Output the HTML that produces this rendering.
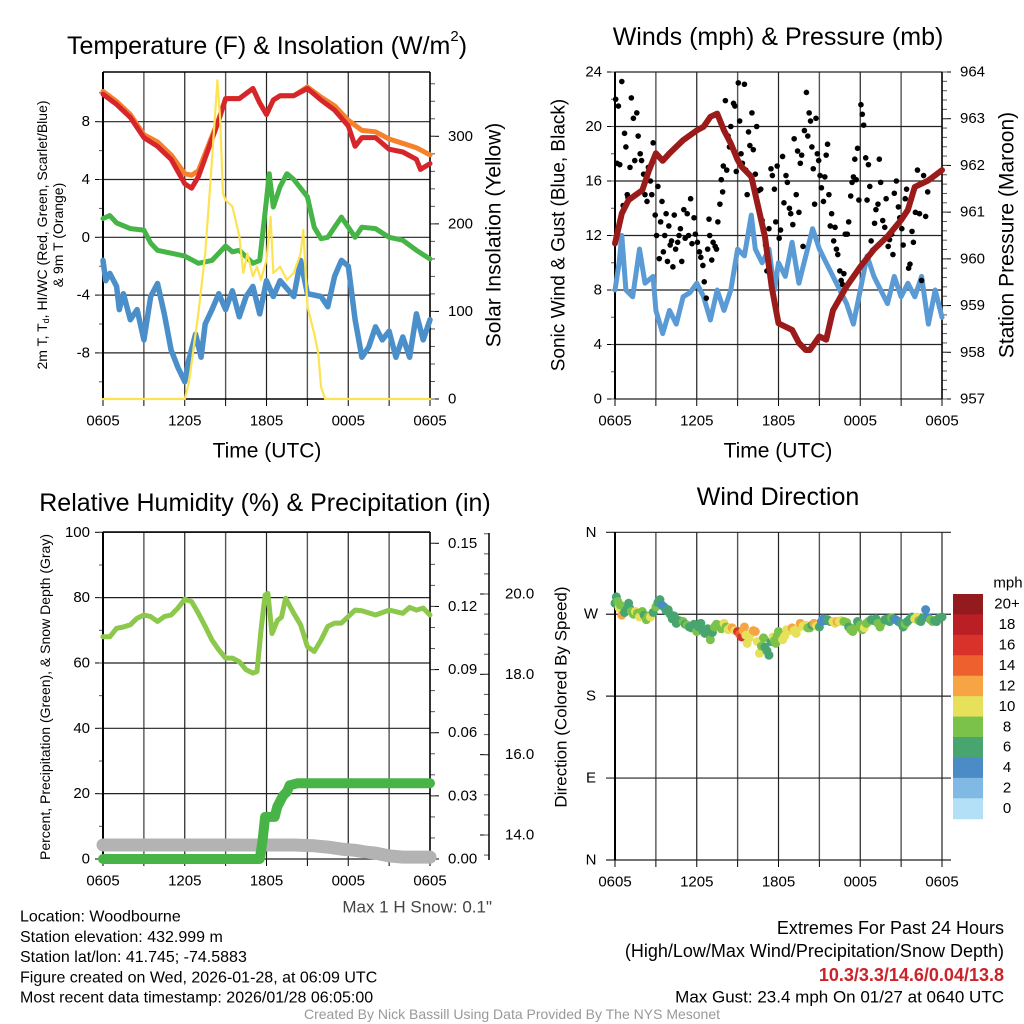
<!DOCTYPE html>
<html><head><meta charset="utf-8"><style>
html,body{margin:0;padding:0;background:#fff;}
svg{display:block;font-family:"Liberation Sans",Arial,sans-serif;}
</style></head><body>
<svg id="s" width="1024" height="1024" viewBox="0 0 1024 1024"></svg>
<script>
// ---------- DATA ----------
const timeTickLabels = ["0605","1205","1805","0005","0605"];
// Panel 1: temperature (F) & insolation
const redHours = [0,1,2,3,4,5,6,6.5,7,8,8.5,9,10,11,11.5,12,12.5,13,14,15,16,17,18,18.5,19,20,21,22,23,23.3,24];
const redTemp  = [9.9,9.2,8.3,6.9,6.3,5.4,3.7,3.4,4.2,6.8,8.1,9.6,9.6,10.3,9.3,8.5,9.5,9.8,9.8,10.3,9.5,8.8,7.7,6.3,6.9,6.9,6.1,5.9,5.4,4.7,5.1];
const orangeHours = [0,1,2,3,4,5,6,6.5,7,8,8.5,9,10,11,11.5,12,12.5,13,14,15,16,17,18,19,20,21,22,23,24];
const orangeTemp  = [10.1,9.4,8.5,7.1,6.6,5.7,4.4,4.3,4.6,7.0,8.2,9.6,9.6,10.3,9.3,8.5,9.5,9.8,9.8,10.4,9.7,9.1,8.1,7.4,7.3,6.8,6.5,6.2,5.7];
const greenHours = [0,0.5,1,2,3,3.5,4,5,6,7,8,9,9.5,10,11,11.5,12,12.2,12.5,13,13.5,14,15,15.5,16,16.5,17,17.5,18,18.5,19,20,21,22,23,24];
const greenTemp  = [1.3,1.5,1.0,0.6,0.5,-0.4,-0.9,-1.1,-1.3,-1.8,-1.6,-0.6,-1.0,-0.9,-1.8,-1.6,2.6,4.4,2.1,3.5,4.4,4.0,2.8,0.7,-0.1,0,0.7,1.4,0.7,0,0.7,0.6,0,-0.2,-0.9,-1.5];
const blueHours = [0,0.2,0.5,1,1.2,1.5,2,2.5,3,3.5,4,4.5,5,5.5,6,6.3,6.8,7.2,7.5,8,8.5,9,9.5,10,10.5,11,11.5,12,12.5,13,14,14.5,15,16,16.5,17,17.5,18,18.5,19,19.5,20,20.5,21,21.5,22,22.5,23,23.5,24];
const blueTemp  = [-1.6,-3.0,-2.5,-3.4,-5.0,-3.9,-5.7,-5.0,-7.1,-4.1,-3.2,-5.3,-7.8,-9.0,-10.0,-8.5,-6.7,-8.3,-6.0,-5.0,-3.9,-5.0,-3.7,-5.5,-4.1,-3.4,-5.3,-3.0,-4.1,-3.0,-4.1,-1.6,-3.9,-4.1,-4.8,-2.7,-1.6,-2.0,-5.7,-8.3,-7.6,-6.2,-7.1,-6.5,-8.3,-6.9,-8.3,-5.3,-7.1,-5.7];
const solarHours = [0,6,6.3,7,7.5,8,8.4,8.6,8.8,9,9.5,10,10.3,10.6,11,11.3,11.6,12,12.3,12.5,13,13.5,14,14.5,14.7,15,15.5,15.8,16,16.3,24];
const solarVals  = [0,0,18,98,166,273,364,319,235,227,220,186,144,166,140,151,136,159,208,144,151,136,144,166,193,106,75,52,14,0,0];
const tempTicks = [-8,-4,0,4,8];
const solarTicks = [0,100,200,300];
// Panel 2: winds & pressure
const windHours = [0,0.3,0.5,0.8,1.3,1.8,2.2,2.8,3,3.5,4,4.5,5,5.5,6,6.5,7,7.5,8,8.5,9,9.5,10,10.3,10.8,11.3,11.7,12,12.5,13,13.5,14,14.5,15,15.5,16,16.5,17,17.5,18,18.5,19,19.5,20,20.5,21,21.5,22,22.5,23,23.5,24];
const windVals  = [8,10,12,8,7.5,11,8.5,9,6.5,4.8,6.5,5.5,7.5,7.8,8.5,7.5,5.8,8,6.5,8,11,10.5,13.5,11,10,11,8,10,9,11.5,8.5,10.5,12.5,11,10,9,8,7,5.5,8,10.5,9,8,7,9,7.5,8.5,7.5,9,5.5,8,6];
const presHours = [0,0.5,1,2,2.5,3,3.5,4,5,6,6.5,7,7.5,8,8.5,9,9.3,10,11,11.5,12,13,13.5,14,14.3,15,15.5,16,17,18,19,20,21,21.5,22,23,24];
const presVals  = [960.33,960.97,961.26,961.47,961.9,962.26,962.1,962.26,962.54,962.75,962.83,963.04,963.11,962.75,962.47,962.12,961.97,961.76,960.48,959.4,958.62,958.48,958.2,958.05,958.05,958.34,958.27,958.9,959.41,959.83,960.2,960.48,960.83,961.05,961.54,961.68,961.9];
const gustHours = [0.05,0.15,0.25,0.35,0.5,0.6,0.7,0.8,0.9,0.95,1.1,1.2,1.35,1.45,1.6,1.7,1.85,1.95,2.1,2.2,2.35,2.45,2.6,2.7,2.8,2.95,3.05,3.15,3.25,3.35,3.45,3.55,3.65,3.75,3.85,3.95,4.05,4.15,4.25,4.35,4.45,4.6,4.7,4.8,4.9,5.05,5.15,5.3,5.4,5.55,5.65,5.8,5.9,6.05,6.2,6.3,6.45,6.55,6.7,6.8,6.9,6.95,7.1,7.2,7.35,7.45,7.55,7.7,7.8,7.9,7.95,8.1,8.2,8.3,8.4,8.5,8.6,8.7,8.8,8.9,9.05,9.15,9.25,9.35,9.5,9.6,9.7,9.8,9.9,10.05,10.15,10.3,10.4,10.55,10.7,10.8,10.9,11.05,11.15,11.3,11.45,11.55,11.7,11.8,11.9,12.05,12.15,12.3,12.4,12.55,12.65,12.8,12.9,13.05,13.15,13.3,13.4,13.5,13.6,13.7,13.8,13.9,14.05,14.15,14.25,14.35,14.45,14.55,14.65,14.75,14.85,14.95,15.05,15.15,15.3,15.4,15.5,15.6,15.7,15.8,15.9,16.05,16.15,16.25,16.35,16.5,16.6,16.7,16.8,16.9,17.05,17.15,17.3,17.4,17.5,17.6,17.7,17.8,17.9,18.05,18.15,18.25,18.4,18.5,18.6,18.7,18.8,18.9,19.05,19.15,19.3,19.4,19.5,19.65,19.8,19.9,20.05,20.15,20.3,20.4,20.5,20.65,20.8,20.9,21.05,21.15,21.3,21.4,21.55,21.65,21.8,21.9,22.05,22.2,22.35,22.5,22.65,22.8,22.95];
const gustVals  = [22,17.3,21.5,17.2,23.3,14.2,19.5,18.5,15,14.8,17,22.1,20.6,17.5,21,19.3,18,17.5,16.5,15,14.5,17,16,15,18.8,13.5,12,15.6,10.3,13,14.5,10.8,12,13.6,10.1,12.7,11.3,11.6,9.7,13.5,11,11.5,12,12.5,10.1,13.9,11.8,13.6,12,14.7,11.4,13.3,12.1,11.5,10.8,10.4,9.8,8.6,7.4,11,13.2,12,10.2,11.5,11.2,11,13,14.3,16.1,15.2,17.1,21.9,16.8,19.3,18.5,20,18.5,21.7,21.5,16.7,23.2,20.4,18,17.3,23.1,16.8,15,19.6,18.6,21,18.3,16.5,20,15.3,15.4,13.1,12.3,11.3,9.4,12.5,16.9,16.4,15.4,13,17.1,11.8,12.4,17.8,14.4,16.4,15.9,14,13.6,12.8,19.1,15,18.2,13.7,17.3,17.9,11.2,19.7,22.5,19.3,21,20.4,18.5,16.9,14.3,20.6,18,17.5,16.4,15.5,14.5,16.3,17.9,18.7,15.0,12.7,13.6,11.6,12.6,11,10.6,9.4,8.7,8.4,9.2,12.1,12.1,13,14.9,15.9,16.3,17.6,16.1,18.4,14.6,21.6,20.9,20.1,17.7,14.6,17.2,15.6,11.6,10.9,12.9,13.9,14.3,17.6,15.9,13.1,12.6,14.7,11.2,11.7,12.1,10.6,15.1,16.0,14.1,13.3,12.5,11.3,14.7,15.4,9.6,9.9,12.3,11.5,13.7,16.8,13.6,8.7,16.4,13.4,15.2];
const windTicks = [0,4,8,12,16,20,24];
const presTicks = [957,958,959,960,961,962,963,964];
// Panel 3: RH, precip, snow depth
const rhHours = [0,0.5,1,1.5,2,2.5,3,3.5,4,4.5,5,5.5,6,6.5,7,7.5,8,8.5,9,9.5,10,10.5,11,11.3,11.6,11.9,12.1,12.4,12.8,13.1,13.4,14,14.5,15,15.5,16,16.5,17,17.5,18,18.5,19,20,21,22,22.5,23,23.5,24];
const rhVals  = [68,68,70.6,71,71.7,73.7,74.7,74.2,72.7,74.2,74.7,76.8,79.5,78.8,75.2,71.2,67,64,61.5,61.5,60.4,57.9,56.9,57.4,70,80.8,81.3,69,73,74,79.8,75.2,71.7,65,63.5,67,71.2,72.2,72.2,74.2,76.2,76,74.7,76.2,75.2,77,76.2,76.8,74.7];
const precipHours = [0,11.5,11.7,11.9,12.6,12.8,13.2,13.5,13.7,14.3,24];
const precipVals  = [0,0,0.008,0.02,0.02,0.025,0.03,0.032,0.035,0.036,0.036];
const snowHours = [0,14,15.5,16.5,17.5,18.5,19.2,20,21,22,23,24];
const snowVals  = [13.75,13.75,13.73,13.7,13.65,13.62,13.58,13.55,13.48,13.45,13.45,13.45];
const rhTicks = [0,20,40,60,80,100];
const precipTicks = [0,0.03,0.06,0.09,0.12,0.15];
const snowTicks = [14,16,18,20];
// Panel 4: wind direction coloured by speed
const dirHours = [0,0.1,0.2,0.3,0.4,0.5,0.7,0.85,1,1.1,1.2,1.35,1.5,1.65,1.8,2,2.15,2.3,2.45,2.6,2.8,3,3.15,3.3,3.45,3.6,3.75,3.9,4.05,4.2,4.35,4.5,4.7,5,5.15,5.3,5.45,5.6,5.8,6,6.15,6.3,6.45,6.6,6.8,7,7.15,7.3,7.45,7.6,7.8,8,8.15,8.3,8.45,8.6,8.8,9,9.15,9.3,9.4,9.5,9.6,9.7,9.85,10,10.15,10.3,10.45,10.6,10.75,10.9,11,11.15,11.3,11.45,11.6,11.7,11.8,11.9,12,12.15,12.3,12.45,12.6,12.8,13,13.15,13.3,13.45,13.6,13.8,14,14.15,14.3,14.45,14.6,14.8,15,15.15,15.3,15.45,15.6,15.8,16,16.15,16.3,16.45,16.6,16.8,17,17.15,17.3,17.45,17.6,17.8,18,18.15,18.3,18.45,18.6,18.8,19,19.15,19.3,19.45,19.6,19.8,20,20.15,20.3,20.45,20.6,20.8,21,21.15,21.3,21.45,21.6,21.8,22,22.15,22.3,22.45,22.6,22.8,23,23.15,23.3,23.45,23.6,23.8,24];
const dirVals  = [282,289,284,277,280,269,272,275,282,276,273,270,273,271,267,273,269,264,268,267,272,278,283,286,280,278,274,275,270,265,268,260,263,262,259,258,256,255,259,251,256,260,252,249,254,242,250,256,259,258,254,260,256,253,255,255,252,251,248,245,252,256,247,238,244,249,252,251,240,227,235,244,234,230,225,240,245,241,238,246,251,247,242,246,253,252,255,252,249,255,260,257,258,255,255,258,260,257,256,262,265,263,264,262,262,260,262,262,263,262,261,256,253,251,255,262,258,253,255,260,262,264,263,265,260,256,261,264,265,262,266,265,264,262,260,256,259,262,264,267,265,267,263,262,266,275,266,264,262,263,262,266,267];
const dirSpeeds= [7,6,9,10,8,12,7,6,6,7,8,9,10,9,10,8,7,8,9,10,7,8,6,6,5,4,6,7,6,6,7,6,7,8,7,8,7,6,7,8,6,6,7,6,7,8,7,8,8,8,9,10,9,10,11,12,11,16,15,16,13,12,11,10,11,10,12,12,11,10,9,8,6,6,6,7,10,9,8,9,8,9,10,11,10,11,12,11,10,10,12,11,10,9,8,7,12,11,6,5,4,5,6,7,10,11,12,11,10,9,8,7,8,9,8,7,8,9,10,9,8,7,6,7,8,9,8,7,6,7,8,7,4,5,6,7,8,7,6,7,10,11,8,7,6,5,4,9,8,6,7,6,6,6];
const dirTicks = ["N","E","S","W","N"];
const cbLabels = ["20+","18","16","14","12","10","8","6","4","2","0"];
const cbColors = ["#931b1d","#bb1f26","#d8322b","#ee602e","#f6a444","#e6e05a","#7bc24a","#48a570","#4b8bc6","#7fb9e4","#b3e0f6"];

// ---------- DRAWING ----------
const NS="http://www.w3.org/2000/svg";
const svg=document.getElementById('s');
function mk(tag,attrs,parent){const e=document.createElementNS(NS,tag);for(const k in attrs)e.setAttribute(k,attrs[k]);(parent||svg).appendChild(e);return e;}
function txt(str,x,y,size,anchor,parent,extra){const t=mk('text',Object.assign({x:x,y:y,'font-size':size,'text-anchor':anchor||'middle','dominant-baseline':'central',fill:'#000'},extra||{}),parent);t.textContent=str;return t;}
function lin(a,b){return v=>a[1]+(v-a[0])*(b[1]-a[1])/(b[0]-a[0]);}
function pathD(xs,ys,fx,fy){return xs.map((h,i)=>(i?'L':'M')+fx(h).toFixed(1)+','+fy(ys[i]).toFixed(1)).join('');}

function frame(L,R,T,B,name){
  const g=mk('g',{});
  
  
  const fx=lin([0,L],[24,R]);
  for(let h=0;h<=24;h+=3){
    const gl=mk('line',{x1:fx(h),x2:fx(h),y1:T,y2:B,stroke:(h%6===0)?'#222':'#555','stroke-width':(h%6===0)?1.2:1.4},g);
    
    
    mk('line',{x1:fx(h),x2:fx(h),y1:B,y2:B+7,stroke:'#000','stroke-width':1},g);
  }
  timeTickLabels.forEach((s,i)=>{
    const t=txt(s,fx(i*6),B+22,15,'middle',g);
    
    
  });
  return {g,fx};
}
function yAxisLeft(g,L,ticks,fy,fmt,T,B,grid,R,minorStep){
  ticks.forEach(v=>{
    const y=fy(v);
    if(grid) mk('line',{x1:L,x2:R,y1:y,y2:y,stroke:'#222','stroke-width':1.2},g);
    mk('line',{x1:L-8,x2:L,y1:y,y2:y,stroke:'#000','stroke-width':1},g);
    const t=txt(fmt(v),L-13,y,15,'end',g);
    
    
  });
  if(minorStep){for(let v=ticks[0]-minorStep*4;v<=ticks[ticks.length-1]+minorStep*4;v+=minorStep){const y=fy(v);if(y>=T-0.5&&y<=B+0.5)mk('line',{x1:L-4,x2:L,y1:y,y2:y,stroke:'#555','stroke-width':1},g);}}
  mk('line',{x1:L,x2:L,y1:T,y2:B,stroke:'#000','stroke-width':2},g);
}
function yAxisRight(g,R,ticks,fy,fmt,T,B,minorStep,lx){
  ticks.forEach(v=>{
    const y=fy(v);
    mk('line',{x1:R,x2:R+9,y1:y,y2:y,stroke:'#000','stroke-width':1},g);
    const t=txt(fmt(v),lx||R+16,y,15,'start',g);
    
    
  });
  if(minorStep){for(let v=ticks[0]-minorStep*8;v<=ticks[ticks.length-1]+minorStep*8;v+=minorStep){const y=fy(v);if(y>=T-0.5&&y<=B+0.5)mk('line',{x1:R,x2:R+5,y1:y,y2:y,stroke:'#555','stroke-width':1},g);}}
  mk('line',{x1:R,x2:R,y1:T,y2:B,stroke:'#000','stroke-width':1.5},g);
}
function series(g,xs,ys,fx,fy,color,w,name){
  const p=mk('path',{d:pathD(xs,ys,fx,fy),fill:'none',stroke:color,'stroke-width':w,'stroke-linejoin':'round','stroke-linecap':'round'},g);
  
  
  return p;
}
function rotText(str,x,y,size,name,extra){
  const t=txt(str,x,y,size,'middle',svg,Object.assign({transform:'rotate(-90 '+x+' '+y+')'},extra||{}));
  
  
  return t;
}

// ===== Panel 1 =====
(function(){
  const L=103,R=430,T=72,B=399;
  const {g,fx}=frame(L,R,T,B,'temperature-panel');
  const fy=lin([0,237.3],[8,121.7]);
  const fs=lin([0,399],[300,136.3]);
  yAxisLeft(g,L,tempTicks,fy,v=>String(v),T,B,true,R,2);
  mk('line',{x1:L,x2:R,y1:T,y2:T,stroke:'#000','stroke-width':1.5},g);
  mk('line',{x1:L,x2:R,y1:B,y2:B,stroke:'#000','stroke-width':1.5},g);
  yAxisRight(g,R,solarTicks,fs,v=>String(v),T,B,20,448);
  series(g,blueHours,blueTemp,fx,fy,'#4a8fc9',5.5,'wind-chill-line');
  series(g,greenHours,greenTemp,fx,fy,'#46b446',5,'dewpoint-line');
  series(g,orangeHours,orangeTemp,fx,fy,'#f5812b',5,'9m-temperature-line');
  series(g,redHours,redTemp,fx,fy,'#d7262b',5,'2m-temperature-line');
  series(g,solarHours,solarVals,fx,fs,'#fde352',2.2,'solar-insolation-line');
  const t=txt('',267,46,25,'middle');
  t.innerHTML='Temperature (F) &amp; Insolation (W/m<tspan font-size="15" dy="-10">2</tspan><tspan dy="10">)</tspan>';
  
  
  const xt=txt('Time (UTC)',267,451,21,'middle');
  
  
  const l1=txt('',42,235,14,'middle',svg,{transform:'rotate(-90 42 235)'});
  l1.innerHTML='2m T, T<tspan font-size="9" dy="4">d</tspan><tspan dy="-4">, HI/WC (Red, Green, Scarlet/Blue)</tspan>';
  
  
  rotText('& 9m T (Orange)',58,235,14,'temperature-y-axis-title-line2');
  rotText('Solar Insolation (Yellow)',494,235,21,'solar-y-axis-title');
})();

// ===== Panel 2 =====
(function(){
  const L=615,R=942,T=72,B=399;
  const {g,fx}=frame(L,R,T,B,'winds-panel');
  const fy=lin([0,399],[24,72]);
  const fp=lin([957,399],[964,72]);
  yAxisLeft(g,L,windTicks,fy,v=>String(v),T,B,true,R,2);
  yAxisRight(g,R,presTicks,fp,v=>String(v),T,B,0.2,960);
  series(g,windHours,windVals,fx,fy,'#5b9bd5',5,'sonic-wind-line');
  gustHours.forEach((h,i)=>{
    const c=mk('circle',{cx:fx(h),cy:fy(gustVals[i]),r:2.8,fill:'#000'},g);
    
    
  });
  series(g,presHours,presVals,fx,fp,'#9b1b1b',6,'station-pressure-line');
  const t=txt('Winds (mph) & Pressure (mb)',778,37,25,'middle');
  
  
  const xt=txt('Time (UTC)',778,451,21,'middle');
  
  
  rotText('Sonic Wind & Gust (Blue, Black)',559,235,19,'wind-y-axis-title');
  rotText('Station Pressure (Maroon)',1007,235,21,'pressure-y-axis-title');
})();

// ===== Panel 3 =====
(function(){
  const L=103,R=430,T=532,B=859;
  const {g,fx}=frame(L,R,T,B,'humidity-panel');
  const fy=lin([0,859],[100,532.3]);
  const fpr=lin([0,859],[0.15,543.3]);
  const fsn=lin([14,835],[20,594]);
  yAxisLeft(g,L,rhTicks,fy,v=>String(v),T,B,true,R,10);
  mk('line',{x1:L,x2:R,y1:T,y2:T,stroke:'#000','stroke-width':1.5},g);
  yAxisRight(g,R,precipTicks,fpr,v=>v.toFixed(2),T,B,0.01,448);
  snowTicks.forEach(v=>{
    const y=fsn(v);
    mk('line',{x1:480,x2:489,y1:y,y2:y,stroke:'#000','stroke-width':1},g);
    const t=txt(v.toFixed(1),505,y,15,'start',g);
    
    
  });
  for(let v=13.5;v<=21.5;v+=0.5){const y=fsn(v);if(y>=533&&y<=860)mk('line',{x1:484,x2:489,y1:y,y2:y,stroke:'#555','stroke-width':1},g);}
  const sa=mk('line',{x1:489,x2:489,y1:533,y2:860,stroke:'#000','stroke-width':1.5},g);
  
  
  series(g,snowHours,snowVals,fx,fsn,'#b3b3b3',13,'snow-depth-line');
  series(g,precipHours,precipVals,fx,fpr,'#48b347',10,'precipitation-line');
  series(g,rhHours,rhVals,fx,fy,'#8cc84b',5,'relative-humidity-line');
  const t=txt('Relative Humidity (%) & Precipitation (in)',265,503,25,'middle');
  
  
  rotText('Percent, Precipitation (Green), & Snow Depth (Gray)',45,697,14,'humidity-y-axis-title');
  const ms=txt('Max 1 H Snow: 0.1"',492,907,17,'end',svg,{fill:'#444'});
  
  
})();

// ===== Panel 4 =====
(function(){
  const L=615,R=942,T=532,B=860;
  const {g,fx}=frame(L,R,T,B,'wind-direction-panel');
  const fy=lin([0,860],[360,532.3]);
  dirTicks.forEach((s,i)=>{
    const y=fy(i*90);
    mk('line',{x1:L-9,x2:R+9,y1:y,y2:y,stroke:'#222','stroke-width':1.2},g);
    const t=txt(s,591,y,15,'middle',g);
    
    
  });
  mk('line',{x1:L,x2:L,y1:T,y2:B,stroke:'#000','stroke-width':2},g);
  dirHours.forEach((h,i)=>{
    const bin=Math.min(10,Math.floor(dirSpeeds[i]/2));
    const c=mk('circle',{cx:fx(h),cy:fy(dirVals[i]),r:4.5,fill:cbColors[10-bin]},g);
    
    
  });
  const t=txt('Wind Direction',778,497,25,'middle');
  
  
  rotText('Direction (Colored By Speed)',561,697,17,'direction-y-axis-title');
  const cb=mk('g',{});
  
  
  const top=594,h=20.43;
  cbColors.forEach((c,i)=>{
    const r=mk('rect',{x:953,y:top+i*h,width:30,height:h+0.5,fill:c},cb);
    
    
    const lt=txt(cbLabels[i],1007,top+i*h+h/2,15,'middle',cb);
    
    
  });
  const mp=txt('mph',1008,583,15,'middle',cb);
  
  
})();

// ===== Footer text =====
const leftLines=["Location: Woodbourne","Station elevation: 432.999 m","Station lat/lon: 41.745; -74.5883","Figure created on Wed, 2026-01-28, at 06:09 UTC","Most recent data timestamp: 2026/01/28 06:05:00"];
leftLines.forEach((s,i)=>{
  const t=txt(s,20,917+i*20.3,16,'start');
  
  
});
const e1=txt('Extremes For Past 24 Hours',1004,928,18,'end');


const e2=txt('(High/Low/Max Wind/Precipitation/Snow Depth)',1004,951,18,'end');


const e3=txt('10.3/3.3/14.6/0.04/13.8',1004,975,18,'end',svg,{fill:'#cc2229','font-weight':'bold'});


const e4=txt('Max Gust: 23.4 mph On 01/27 at 0640 UTC',1004,997,17,'end');


const cr=txt('Created By Nick Bassill Using Data Provided By The NYS Mesonet',512,1014,14,'middle',svg,{fill:'#999'});


</script>
</body></html>
